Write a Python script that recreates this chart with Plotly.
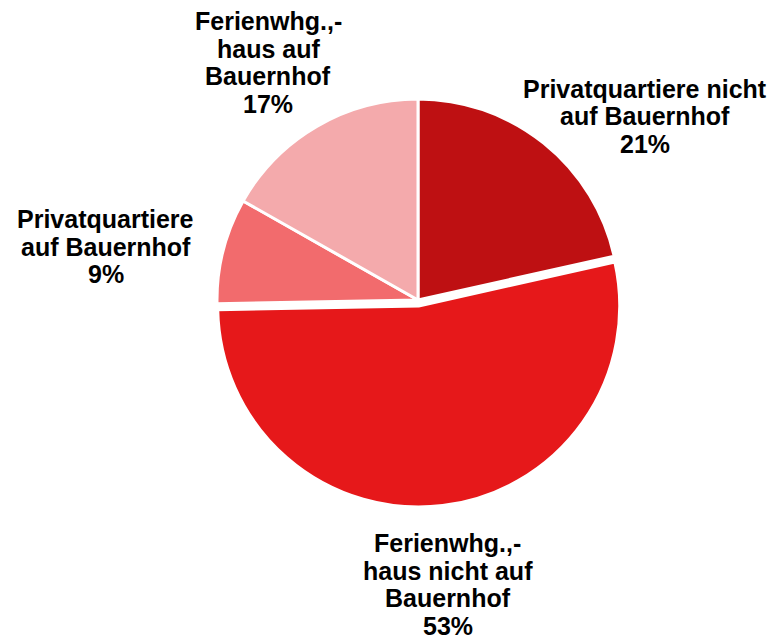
import plotly.graph_objects as go

# slices, clockwise from 12 o'clock
labels = ["Privatquartiere nicht<br>auf Bauernhof",
          "Ferienwhg.,-<br>haus nicht auf<br>Bauernhof",
          "Privatquartiere<br>auf Bauernhof",
          "Ferienwhg.,-<br>haus auf<br>Bauernhof"]
values = [21.5, 53.2, 8.5, 16.8]
pct_labels = ["21%", "53%", "9%", "17%"]
colors = ["#BE1012", "#E6181A", "#F26B6D", "#F4AAAC"]
pulls = [0, 0.03, 0, 0]

W, H = 776, 640
# label placement in pixels: centre x, first line centre y
label_px_x = [645, 448, 106, 268]
label_px_y = [89, 543, 219, 21.5]
line_h = 27.5

cx, cy, r = 418, 300, 201 * 1.03

fig = go.Figure()
fig.add_trace(go.Pie(
    labels=labels,
    values=values,
    sort=False,
    direction="clockwise",
    rotation=0,
    pull=pulls,
    textinfo="none",
    hoverinfo="label+percent",
    marker=dict(colors=colors, line=dict(color="white", width=3)),
    domain=dict(x=[(cx - r) / W, (cx + r) / W],
                y=[1 - (cy + r) / H, 1 - (cy - r) / H]),
    showlegend=False,
))

# outside labels, one annotation per line (tight line spacing like the original)
for lab, p, x, y in zip(labels, pct_labels, label_px_x, label_px_y):
    lines = lab.split("<br>") + [p]
    for k, txt in enumerate(lines):
        fig.add_annotation(
            x=x / W, y=1 - (y + k * line_h) / H, xref="paper", yref="paper",
            xanchor="center", yanchor="middle",
            text=txt, showarrow=False,
            font=dict(family="Liberation Sans, Arial", size=25, color="black", weight="bold"),
        )

fig.update_layout(
    width=W, height=H,
    margin=dict(l=0, r=0, t=0, b=0),
    paper_bgcolor="white",
    plot_bgcolor="white",
)

fig.write_html("out.html", config={"displayModeBar": False},
               post_script="document.body.style.margin='0';")
